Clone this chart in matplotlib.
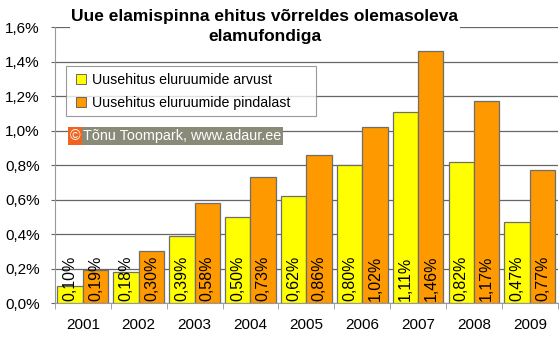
import matplotlib.pyplot as plt
import numpy as np
from matplotlib.lines import Line2D

plt.rcParams["font.family"] = ["Liberation Sans", "DejaVu Sans"]

years = ["2001", "2002", "2003", "2004", "2005", "2006", "2007", "2008", "2009"]
by_count = [0.10, 0.18, 0.39, 0.50, 0.62, 0.80, 1.11, 0.82, 0.47]
by_area = [0.19, 0.30, 0.58, 0.73, 0.86, 1.02, 1.46, 1.17, 0.77]
yticks = [0.0, 0.2, 0.4, 0.6, 0.8, 1.0, 1.2, 1.4, 1.6]

YELLOW = "#FFFF00"
ORANGE = "#FF9900"

fig = plt.figure(figsize=(5.6, 3.42), dpi=100)
fig.patch.set_facecolor("white")
ax = fig.add_axes([0.098, 0.114, 0.898, 0.807])

x = np.arange(len(years))
w = 0.455
b1 = ax.bar(x - w / 2, by_count, w, color=YELLOW, edgecolor="#6E6E6E", linewidth=0.9, zorder=3)
b2 = ax.bar(x + w / 2, by_area, w, color=ORANGE, edgecolor="#6E6E6E", linewidth=0.9, zorder=3)

for bars, vals in ((b1, by_count), (b2, by_area)):
    for rect, v in zip(bars, vals):
        ax.text(rect.get_x() + rect.get_width() / 2, 0.01,
                f"{v:.2f}%".replace(".", ","), rotation=90, ha="center", va="bottom",
                fontsize=11.5, color="black", zorder=4)

ax.set_xlim(-0.5, len(years) - 0.5)
ax.set_ylim(0, 1.6)
ax.set_yticks(yticks)
ax.set_yticklabels([f"{t:.1f}%".replace(".", ",") for t in yticks], fontsize=11)
ax.set_xticks(x)
ax.set_xticklabels(years, fontsize=11)
ax.set_xticks(np.arange(len(years) + 1) - 0.5, minor=True)
ax.tick_params(axis="x", which="major", length=0, pad=11)
ax.tick_params(axis="x", which="minor", length=4, color="#999999")
ax.tick_params(axis="y", length=3, color="#666666", pad=8)
ax.grid(axis="y", color="#666666", linewidth=0.9, zorder=0)
for s in ["top", "right"]:
    ax.spines[s].set_visible(False)
ax.spines["left"].set_color("#999999")
ax.spines["bottom"].set_color("#999999")

handles = [
    Line2D([], [], marker="s", linestyle="none", markersize=6.5, markerfacecolor=YELLOW, markeredgecolor="#555555", markeredgewidth=0.6),
    Line2D([], [], marker="s", linestyle="none", markersize=6.5, markerfacecolor=ORANGE, markeredgecolor="#555555", markeredgewidth=0.6),
]
leg = ax.legend(handles, ["Uusehitus eluruumide arvust", "Uusehitus eluruumide pindalast"],
                loc="upper left", bbox_to_anchor=(0.022, 0.858, 0.497, 0.0), mode="expand",
                borderaxespad=0, fontsize=10.2, frameon=True, fancybox=False,
                handletextpad=0.2, handlelength=1.2, labelspacing=0.65, borderpad=0.45)
leg.get_frame().set_edgecolor("#808080")
leg.get_frame().set_linewidth(0.8)
leg.set_zorder(5)

fig.text(0.124, 0.602, "©", fontsize=10.4, color="white", ha="left", va="center",
         bbox=dict(boxstyle="square,pad=0.12", fc="#F0641E", ec="none"), zorder=6)
fig.text(0.149, 0.602, "Tõnu Toompark, www.adaur.ee", fontsize=10.4, color="white",
         ha="left", va="center",
         bbox=dict(boxstyle="square,pad=0.12", fc="#8A8A78", ec="none"), zorder=6)

fig.text(0.473, 0.922, "Uue elamispinna ehitus võrreldes olemasoleva\nelamufondiga",
         ha="center", va="center", fontsize=12.5, fontweight="bold", linespacing=1.45,
         bbox=dict(boxstyle="square,pad=0.1", fc="white", ec="none"))

fig.savefig("out.png", dpi=100, facecolor="white")
